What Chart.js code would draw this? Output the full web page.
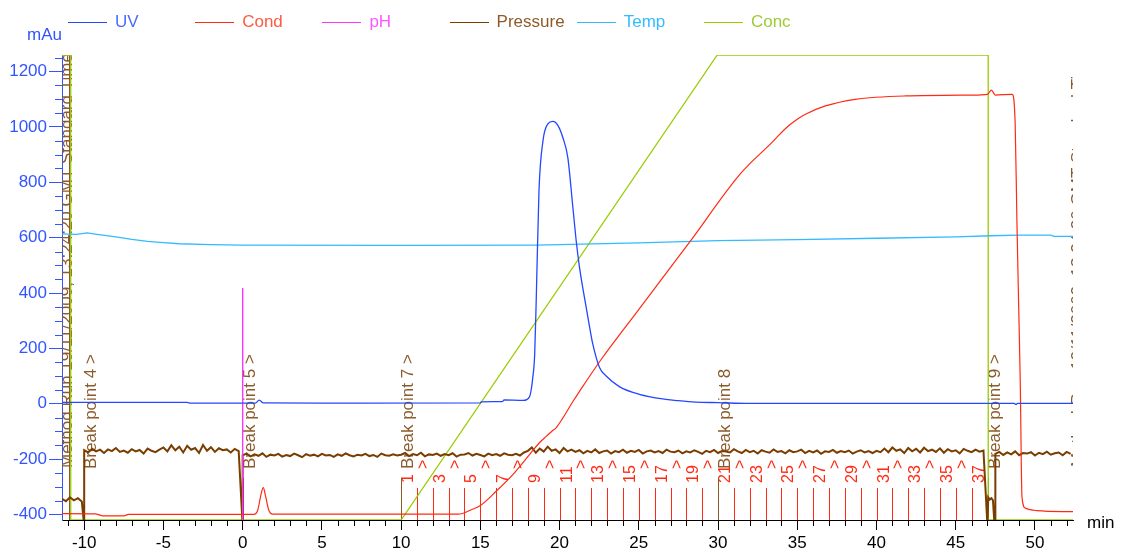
<!DOCTYPE html>
<html>
<head>
<meta charset="utf-8">
<script src="https://cdn.jsdelivr.net/npm/chart.js@4/dist/chart.umd.min.js"></script>
<style>
  body { margin: 0; background: #fff; overflow: hidden; font-family: "Liberation Sans", Arial, sans-serif; }
  #wrap { position: relative; width: 1126px; height: 554px; }
  canvas { position: absolute; left: 0; top: 0; }
  .legend { position: absolute; top: 12px; left: 68px; display: flex; font-size: 17px; line-height: 20px; }
  .item { width: 127.2px; display: flex; align-items: center; }
  .swatch { width: 39px; height: 1px; margin-right: 8px; }
  .unit { position: absolute; font-size: 17px; line-height: 20px; }
</style>
</head>
<body>
<div id="wrap">
  <canvas id="chart" width="1126" height="554"></canvas>
  <div class="legend" id="legend"></div>
  <div class="unit" style="left:27px; top:25px; color:#3355ff;">mAu</div>
  <div class="unit" style="left:1087px; top:513px; color:#000;">min</div>
</div>
<script>
const UV_COLOR = '#2447ff';
const COND_COLOR = '#ff2a14';
const PH_COLOR = '#ff33ff';
const PRESSURE_COLOR = '#7a3d00';
const TEMP_COLOR = '#33bbff';
const CONC_COLOR = '#99cc00';
const AXIS_Y_COLOR = '#3355ff';
const TEXT_BROWN = '#8b5a2b';

// ---- data (min, mAu) ----
const uvTime = [-11.4, -3.5, -3.3, 0.8, 1.05, 1.3, 5, 15, 15.05, 16.4, 16.5, 17.7, 18.1, 18.2, 18.3, 18.43, 18.53, 18.7, 18.95, 19.26, 19.58, 19.9, 20.21, 20.52, 20.84, 21.05, 21.26, 21.68, 21.9, 22.09, 22.52, 22.94, 23.77, 25.03, 26.7, 27.5, 28.6, 30, 32, 48.7, 48.8, 48.9, 52.4];
const uvValue = [5, 5, 2, 2, 13, 3, 2, 3, 7, 8, 14, 12, 25, 47, 90, 180, 383, 769, 949, 1011, 1020, 1005, 961, 889, 709, 588, 492, 348, 275, 217, 131, 100, 62, 34, 16, 11, 6, 4, 1, 1, -3, 1, 1];

const condTime = [-11.4, -9.3, -8.8, -7.5, -7.2, 0.7, 0.95, 1.15, 1.3, 1.45, 1.65, 1.9, 13.6, 14.5, 15.0, 16.0, 17.05, 18.1, 18.74, 19.16, 19.5, 19.79, 20.2, 20.84, 21.26, 22.6, 25.03, 28.18, 31.43, 33.42, 33.92, 34.47, 35.0, 35.52, 36.77, 38.66, 41.8, 46.0, 47.0, 47.25, 47.5, 48.56, 48.75, 48.86, 48.96, 49.07, 49.18, 49.39, 50.12, 52.4];
const condValue = [-397, -398, -405, -405, -400, -400, -385, -330, -303, -335, -385, -399, -399, -381, -368, -316, -256, -184, -140, -118, -100, -86, -52, 8, 45, 158, 343, 582, 832, 945, 975, 1005, 1028, 1046, 1076, 1100, 1112, 1115, 1118, 1133, 1115, 1118, 1014, 663, 385, 85, -337, -377, -386, -390];

const phTime = [0, 0];
const phValue = [418, -430];

const tempTime = [-11.4, -10.5, -9.8, -9.3, -8, -7, -6, -5, -4, -2, 0, 10, 18.5, 20, 25, 30, 35, 40, 45, 47.2, 49, 51, 51.2, 52.4];
const tempValue = [614, 612, 617, 613, 603, 594, 587, 582, 578, 575, 573, 572, 573, 575, 581, 589, 593, 598, 603, 607, 609, 609, 605, 605];

// conc in %B, own hidden axis 0..100
const concTime = [-11.4, -10.85, -10.85, 10, 29.95, 47.05, 47.05, 52.4];
const concValue = [100, 100, 0, 0, 100, 100, 0, 0];

// pressure: sampled runs between pump stops
const PRESSURE_STEP = 0.25;
const pressureStops = [-10, 0, 47.0, 47.5];
const pressureStopLevel = -440;
const pressureBefore = [-344, -352, -338, -349, -341, -353];               // from -11.4
const pressureRun1 = [-168, -176, -163, -172, -166, -178, -165, -171, -160, -174, -169, -177, -164, -172, -167, -180, -162, -170, -175, -166,
  -158, -172, -150, -168, -155, -176, -152, -166, -160, -178, -149, -170, -157, -174, -161, -168, -165, -176, -163, -171]; // from -10
const pressureRun2 = [-186, -180, -190, -183, -188, -179, -192, -184, -187, -181, -191, -185, -189, -180, -186, -193, -182, -188, -184, -190,
  -181, -187, -185, -192, -183, -188, -179, -186, -190, -184, -187, -181, -189, -185, -192, -180, -186, -188, -183, -187,
  -184, -178, -189, -182, -186, -177, -190, -183, -185, -180, -188, -182, -186, -179, -191, -184, -183, -178, -187, -181, -185, -190, -180, -186, -182, -188, -179, -184, -186, -181, -187, -176,
  -170, -158, -177, -162, -173, -155, -170, -165, -178, -160, -172, -166,
  -174, -168, -179, -170, -176, -165, -178, -172, -169, -180, -171, -175, -166,
  -177, -170, -174, -167, -180, -172, -169, -176, -171, -178, -166, -173, -175,
  -169, -179, -172, -176, -168, -174, -181, -170, -175, -167, -178, -171, -173,
  -176, -164, -172, -178, -167, -175, -170, -180, -168, -173, -177, -165, -174,
  -171, -179, -168, -175, -172, -166, -178, -170, -176, -169, -181, -172, -174,
  -167, -177, -171, -175, -169, -180, -173, -168, -176, -171, -178, -170, -175,
  -162, -175, -158, -170, -165, -178, -160, -172, -163, -176, -159, -171, -166,
  -174, -161, -177, -164, -172, -168, -179, -163, -170, -175, -166, -173, -169]; // from 0
const pressureHold = [-338, -346, -341, -349];                              // from 47.05, step 0.1
const pressureRun3 = [-181, -174, -185, -176, -183, -172, -186, -178, -180, -175, -187, -177, -182, -173, -184, -179, -176, -186, -174, -181]; // from 47.5

const breakTimes = [-10, 0, 10, 30, 47.05];
const breakLabels = ['Break point 4 >', 'Break point 5 >', 'Break point 7 >', 'Break point 8', 'Break point 9 >'];
const fractionStarts = [10, 11, 12, 13, 14, 15, 16, 17, 18, 19, 20, 21, 22, 23, 24, 25, 26, 27, 28, 29, 30, 31, 32, 33, 34, 35, 36, 37, 38, 39, 40, 41, 42, 43, 44, 45, 46];
const fractionNames = ['1', '2', '3', '4', '5', '6', '7', '8', '9', '10', '11', '12', '13', '14', '15', '16', '17', '18', '19', '20', '21', '22', '23', '24', '25', '26', '27', '28', '29', '30', '31', '32', '33', '34', '35', '36', '37'];
const methodRunTime = -10.9;
const methodRunText = 'Method Run 19/11/2009, 13:24:20 GMT Standard Time';

const xTicks = { min: -11.4, max: 52.4, step: 5 };
const yTicks = { min: -420, max: 1260, step: 200 };

// ---- helpers ----
function pairs(times, values) {
    return times.map((t, i) => ({ x: t, y: values[i] }));
}
function run(start, step, values) {
    return values.map((v, i) => ({ x: start + i * step, y: v }));
}

let pressureData = [].concat(
    run(-11.4, PRESSURE_STEP, pressureBefore),
    [{ x: pressureStops[0], y: pressureStopLevel }],
    run(pressureStops[0], PRESSURE_STEP, pressureRun1),
    [{ x: pressureStops[1], y: pressureStopLevel }],
    run(pressureStops[1], PRESSURE_STEP, pressureRun2),
    [{ x: pressureStops[2], y: pressureStopLevel }],
    run(47.05, 0.1, pressureHold),
    [{ x: 47.45, y: pressureStopLevel }, { x: pressureStops[3], y: pressureStopLevel }],
    run(pressureStops[3], PRESSURE_STEP, pressureRun3)
);

let legendItems = [
    ['UV', UV_COLOR, '#4d6bff'],
    ['Cond', COND_COLOR, '#ff5a40'],
    ['pH', PH_COLOR, '#ff55ff'],
    ['Pressure', PRESSURE_COLOR, '#8f5a2a'],
    ['Temp', TEMP_COLOR, '#33bbff'],
    ['Conc', CONC_COLOR, '#9ccc33']
];
let legendDiv = document.querySelector('#legend');
legendItems.forEach(item => {
    let el = document.createElement('div');
    el.className = 'item';
    el.innerHTML = '<span class="swatch" style="background:' + item[1] + '"></span><span style="color:' + item[2] + '">' + item[0] + '</span>';
    legendDiv.appendChild(el);
});

function verticalText(ctx, text, px, py) {
    ctx.save();
    ctx.translate(px, py);
    ctx.rotate(-Math.PI / 2);
    ctx.textAlign = 'left';
    ctx.textBaseline = 'alphabetic';
    ctx.fillText(text, 0, 0);
    ctx.restore();
}

// fractions, break points and run text, drawn under the curves
const markers = {
    id: 'markers',
    beforeDatasetsDraw(chart) {
        const { ctx, chartArea: a, scales: { x } } = chart;
        ctx.save();
        ctx.beginPath();
        ctx.rect(a.left, a.top, a.right - a.left, a.bottom - a.top);
        ctx.clip();

        // fraction lines and labels
        ctx.strokeStyle = COND_COLOR;
        ctx.fillStyle = COND_COLOR;
        ctx.lineWidth = 1;
        ctx.font = '16px "Liberation Sans", Arial, sans-serif';
        fractionStarts.forEach((t, i) => {
            const px = Math.round(x.getPixelForValue(t)) + 0.5;
            ctx.beginPath();
            ctx.moveTo(px, a.bottom);
            ctx.lineTo(px, a.bottom - 32);
            ctx.stroke();
            if (i % 2 === 0) {
                verticalText(ctx, fractionNames[i], px + 11, a.bottom - 37);
            } else {
                verticalText(ctx, '>', px + 10, a.bottom - 51);
            }
        });

        // break points
        ctx.strokeStyle = TEXT_BROWN;
        ctx.fillStyle = TEXT_BROWN;
        ctx.font = '17px "Liberation Sans", Arial, sans-serif';
        breakTimes.forEach((t, i) => {
            const px = Math.round(x.getPixelForValue(t)) + 0.5;
            ctx.beginPath();
            ctx.moveTo(px, a.bottom);
            ctx.lineTo(px, a.bottom - 42);
            ctx.stroke();
            verticalText(ctx, breakLabels[i], px + 11, a.bottom - 51);
        });

        // method run marker at the start and at the right edge
        const mx = Math.round(x.getPixelForValue(methodRunTime)) - 0.5;
        ctx.beginPath();
        ctx.moveTo(mx, a.bottom);
        ctx.lineTo(mx, a.top);
        ctx.stroke();
        verticalText(ctx, methodRunText, mx + 2, a.bottom - 52);
        verticalText(ctx, methodRunText, a.right + 10, a.bottom - 53);
        ctx.restore();
    }
};

const minorTicks = {
    id: 'minorTicks',
    afterDraw(chart) {
        const { ctx, chartArea: a, scales: { x, y } } = chart;
        ctx.save();
        ctx.lineWidth = 1;
        ctx.strokeStyle = '#000';
        ctx.beginPath();
        for (let t = Math.ceil(x.min); t <= x.max; t++) {
            if (t % xTicks.step === 0) continue;
            const px = Math.round(x.getPixelForValue(t)) + 0.5;
            ctx.moveTo(px, a.bottom);
            ctx.lineTo(px, a.bottom + 6);
        }
        ctx.stroke();
        ctx.strokeStyle = AXIS_Y_COLOR;
        ctx.beginPath();
        for (let v = -400; v <= y.max; v += 50) {
            if (v % yTicks.step === 0) continue;
            const py = Math.round(y.getPixelForValue(v)) + 0.5;
            ctx.moveTo(a.left - 7, py);
            ctx.lineTo(a.left, py);
        }
        ctx.stroke();
        ctx.restore();
    }
};

Chart.defaults.font.family = '"Liberation Sans", Arial, sans-serif';
Chart.defaults.font.size = 17;

function lineSet(label, data, color, width, extra) {
    return Object.assign({
        label: label,
        data: data,
        borderColor: color,
        backgroundColor: color,
        borderWidth: width,
        pointRadius: 0,
        fill: false,
        tension: 0
    }, extra || {});
}

let graph = new Chart(document.querySelector('#chart'), {
    type: 'line',
    data: {
        datasets: [
            lineSet('UV', pairs(uvTime, uvValue), UV_COLOR, 1.3, { cubicInterpolationMode: 'monotone' }),
            lineSet('Cond', pairs(condTime, condValue), COND_COLOR, 1.2, { cubicInterpolationMode: 'monotone' }),
            lineSet('pH', pairs(phTime, phValue), PH_COLOR, 1),
            lineSet('Pressure', pressureData, PRESSURE_COLOR, 2),
            lineSet('Temp', pairs(tempTime, tempValue), TEMP_COLOR, 1.3),
            lineSet('Conc', pairs(concTime, concValue), CONC_COLOR, 1.3, { yAxisID: 'yConc' })
        ]
    },
    options: {
        responsive: false,
        animation: false,
        events: [],
        layout: { padding: { top: 55, right: 53, left: 0, bottom: 0 } },
        plugins: {
            legend: { display: false },
            tooltip: { enabled: false }
        },
        scales: {
            x: {
                type: 'linear',
                min: xTicks.min,
                max: xTicks.max,
                afterFit: scale => { scale.height = 34; },
                border: { color: '#000' },
                grid: { drawOnChartArea: false, tickLength: 10, tickColor: '#000' },
                ticks: { stepSize: xTicks.step, includeBounds: false, color: '#000', maxRotation: 0, autoSkip: false, padding: 3 }
            },
            y: {
                min: yTicks.min,
                max: yTicks.max,
                afterFit: scale => { scale.width = 62; },
                border: { color: AXIS_Y_COLOR },
                grid: { drawOnChartArea: false, tickLength: 13, tickColor: AXIS_Y_COLOR },
                ticks: { stepSize: yTicks.step, includeBounds: false, color: AXIS_Y_COLOR, padding: 2, callback: v => String(v) }
            },
            yConc: { min: 0, max: 100, display: false }
        }
    },
    plugins: [markers, minorTicks]
});
</script>
</body>
</html>
